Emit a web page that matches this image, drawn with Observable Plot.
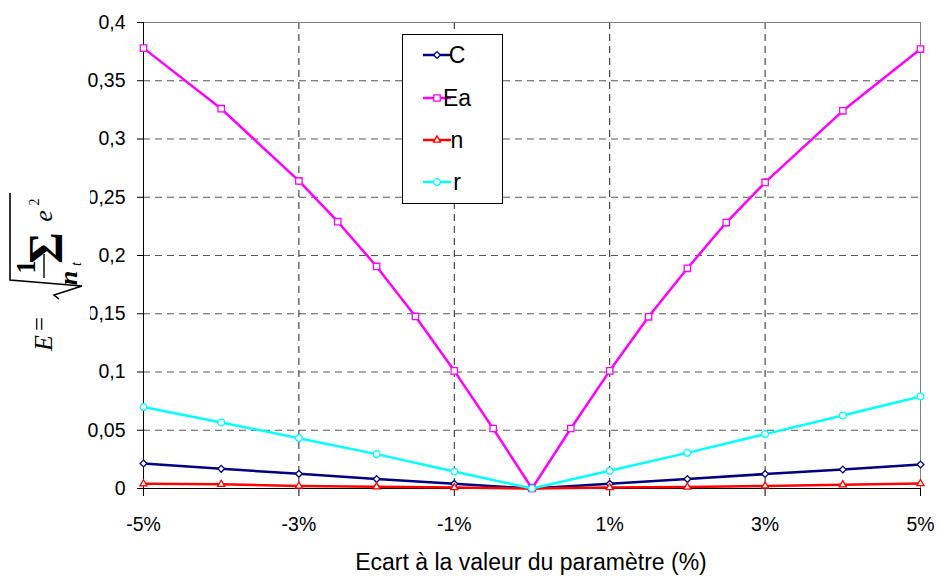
<!DOCTYPE html>
<html>
<head>
<meta charset="utf-8">
<script src="https://cdn.jsdelivr.net/npm/d3@7"></script>
<script src="https://cdn.jsdelivr.net/npm/@observablehq/plot@0.6"></script>
<style>
  html, body { margin: 0; padding: 0; background: #fff; }
  #chart { width: 939px; height: 579px; }
  svg { font-family: Arial, "Liberation Sans", sans-serif; }
</style>
</head>
<body>
<div id="chart"></div>
<script>
// ---- data ----
const xInt = [-5, -4, -3, -2, -1, 0, 1, 2, 3, 4, 5];
const xEa = [-5, -4, -3, -2.5, -2, -1.5, -1, -0.5, 0, 0.5, 1, 1.5, 2, 2.5, 3, 4, 5];
const valC = [0.0215, 0.0169, 0.0126, 0.0081, 0.004, 0, 0.004, 0.0081, 0.0124, 0.0163, 0.0206];
const valEa = [0.378, 0.326, 0.264, 0.229, 0.1906, 0.1477, 0.101, 0.0515, 0, 0.0515, 0.101, 0.1474, 0.189, 0.2283, 0.2627, 0.3242, 0.3772];
const valN = [0.004, 0.0036, 0.0021, 0.0015, 0.0008, 0, 0.0008, 0.0012, 0.0022, 0.0032, 0.0042];
const valR = [0.0699, 0.0567, 0.0432, 0.0295, 0.0146, 0, 0.0152, 0.0306, 0.0467, 0.0627, 0.079];
const seriesNames = ["C", "Ea", "n", "r"];
const seriesColors = ["#000080", "#FF00FF", "#FF0000", "#00FFFF"];
const xTicks = [-5, -3, -1, 1, 3, 5];
const yTicks = [0, 0.05, 0.1, 0.15, 0.2, 0.25, 0.3, 0.35, 0.4];
const xTitle = "Ecart à la valeur du paramètre (%)";

// ---- marker symbols ----
const half = size => Math.sqrt(size / Math.PI);
const symDiamond = { draw(ctx, size) { const h = half(size); ctx.moveTo(0, -h); ctx.lineTo(h, 0); ctx.lineTo(0, h); ctx.lineTo(-h, 0); ctx.closePath(); } };
const symSquare = { draw(ctx, size) { const h = half(size); ctx.rect(-h, -h, 2 * h, 2 * h); } };
const symTriangle = { draw(ctx, size) { const R = half(size); ctx.moveTo(0, -R); ctx.lineTo(R * 0.866, R * 0.5); ctx.lineTo(-R * 0.866, R * 0.5); ctx.closePath(); } };
const symCircle = { draw(ctx, size) { const r = half(size); ctx.moveTo(r, 0); ctx.arc(0, 0, r, 0, 2 * Math.PI); } };
const symbols = [symDiamond, symSquare, symTriangle, symCircle];
const symR = [3.4, 3.2, 4.1, 3.4];

const seriesX = [xInt, xEa, xInt, xInt];
const seriesY = [valC, valEa, valN, valR];
const rows = seriesNames.map((s, i) => seriesX[i].map((x, j) => ({ s, x, y: seriesY[i][j] })));

const seriesMarks = [];
rows.forEach((data, i) => {
  seriesMarks.push(Plot.line(data, { x: "x", y: "y", stroke: seriesColors[i], strokeWidth: 2.5 }));
  seriesMarks.push(Plot.dot(data, { x: "x", y: "y", symbol: symbols[i], r: symR[i], stroke: seriesColors[i], fill: "white", strokeWidth: 1.3 }));
});

const fmtY = d => String(d).replace(".", ",");

const plot = Plot.plot({
  width: 939,
  height: 579,
  marginLeft: 143,
  marginRight: 19,
  marginTop: 22,
  marginBottom: 91,
  style: { background: "white", color: "black", fontFamily: "Arial, 'Liberation Sans', sans-serif" },
  x: { domain: [-5, 5], axis: null },
  y: { domain: [0, 0.4], axis: null },
  marks: [
    Plot.gridY({ ticks: yTicks.filter(d => d > 0 && d < 0.4), stroke: "#555", strokeOpacity: 1, strokeDasharray: "7,5" }),
    Plot.gridX({ ticks: [-3, -1, 1, 3], stroke: "#222", strokeOpacity: 1, strokeDasharray: "7,5" }),
    Plot.ruleY([0.4], { stroke: "#808080", strokeWidth: 1 }),
    Plot.ruleX([5], { stroke: "#808080", strokeWidth: 1 }),
    Plot.ruleX([-5], { stroke: "black", strokeWidth: 1 }),
    Plot.ruleY([0], { stroke: "black", strokeWidth: 1 }),
    Plot.axisY({ ticks: yTicks, tickFormat: fmtY, tickSize: 6, tickPadding: 12, fontSize: 19.5, label: null, stroke: "black", fill: "black" }),
    Plot.axisX({ ticks: xTicks, tickFormat: d => `${d}%`, tickSize: 8, tickPadding: 21, fontSize: 19.5, label: null, stroke: "black", fill: "black" }),
    ...seriesMarks
  ]
});

document.getElementById("chart").appendChild(plot);

const svg = d3.select(plot);

// ---- x-axis title ----
svg.append("text")
  .attr("x", 531).attr("y", 570)
  .attr("text-anchor", "middle")
  .attr("font-size", 23)
  .attr("fill", "black")
  .text(xTitle);

// ---- y-axis formula (rotated) ----
svg.append("rect").attr("x", 0).attr("y", 178).attr("width", 90).attr("height", 172).attr("fill", "white");
const g = svg.append("g")
  .attr("transform", "translate(52,343) rotate(-90)")
  .attr("font-family", "'Liberation Serif', 'Times New Roman', 'DejaVu Serif', serif")
  .attr("fill", "black");
g.append("text").attr("x", 0).attr("y", 0).attr("font-size", 26).attr("font-style", "italic").text("E");
g.append("text").attr("x", 19).attr("y", -4).attr("font-size", 25).text("=");
g.append("path").attr("d", "M44,7 L48,2 L57,30 L63,-42 L150,-42").attr("fill", "none").attr("stroke", "black").attr("stroke-width", 1.6);
g.append("text").attr("x", 76).attr("y", -17).attr("font-size", 27).attr("font-weight", "bold").attr("text-anchor", "middle").text("1");
g.append("line").attr("x1", 65).attr("x2", 89).attr("y1", -8).attr("y2", -8).attr("stroke", "black").attr("stroke-width", 1.4);
g.append("text").attr("x", 65).attr("y", 25).attr("font-size", 26).attr("font-style", "italic").attr("font-weight", "bold").text("n");
g.append("text").attr("x", 79).attr("y", 29).attr("font-size", 14).attr("font-style", "italic").text("t");
g.append("text").attr("x", 95).attr("y", 10).attr("font-size", 48).attr("font-weight", "bold").text("Σ");
g.append("text").attr("x", 127).attr("y", 0).attr("font-size", 26).attr("font-style", "italic").text("e");
g.append("text").attr("x", 141).attr("y", -13).attr("font-size", 14).text("2");

// ---- legend ----
const lg = svg.append("g");
lg.append("rect").attr("x", 402.5).attr("y", 34.5).attr("width", 100).attr("height", 169)
  .attr("fill", "white").attr("stroke", "black").attr("stroke-width", 1);
const legendY = [55, 98, 140, 182];
seriesNames.forEach((name, i) => {
  const y = legendY[i];
  lg.append("line").attr("x1", 423).attr("x2", 451).attr("y1", y).attr("y2", y)
    .attr("stroke", seriesColors[i]).attr("stroke-width", 2.5);
  lg.append("path")
    .attr("d", d3.symbol().type(symbols[i]).size(Math.PI * symR[i] * symR[i])())
    .attr("transform", `translate(437,${y})`)
    .attr("fill", "white").attr("stroke", seriesColors[i]).attr("stroke-width", 1.3);
  lg.append("text").attr("x", 457).attr("y", y).attr("dy", "0.36em")
    .attr("font-size", 23).attr("fill", "black").text(name);
});
</script>
</body>
</html>
